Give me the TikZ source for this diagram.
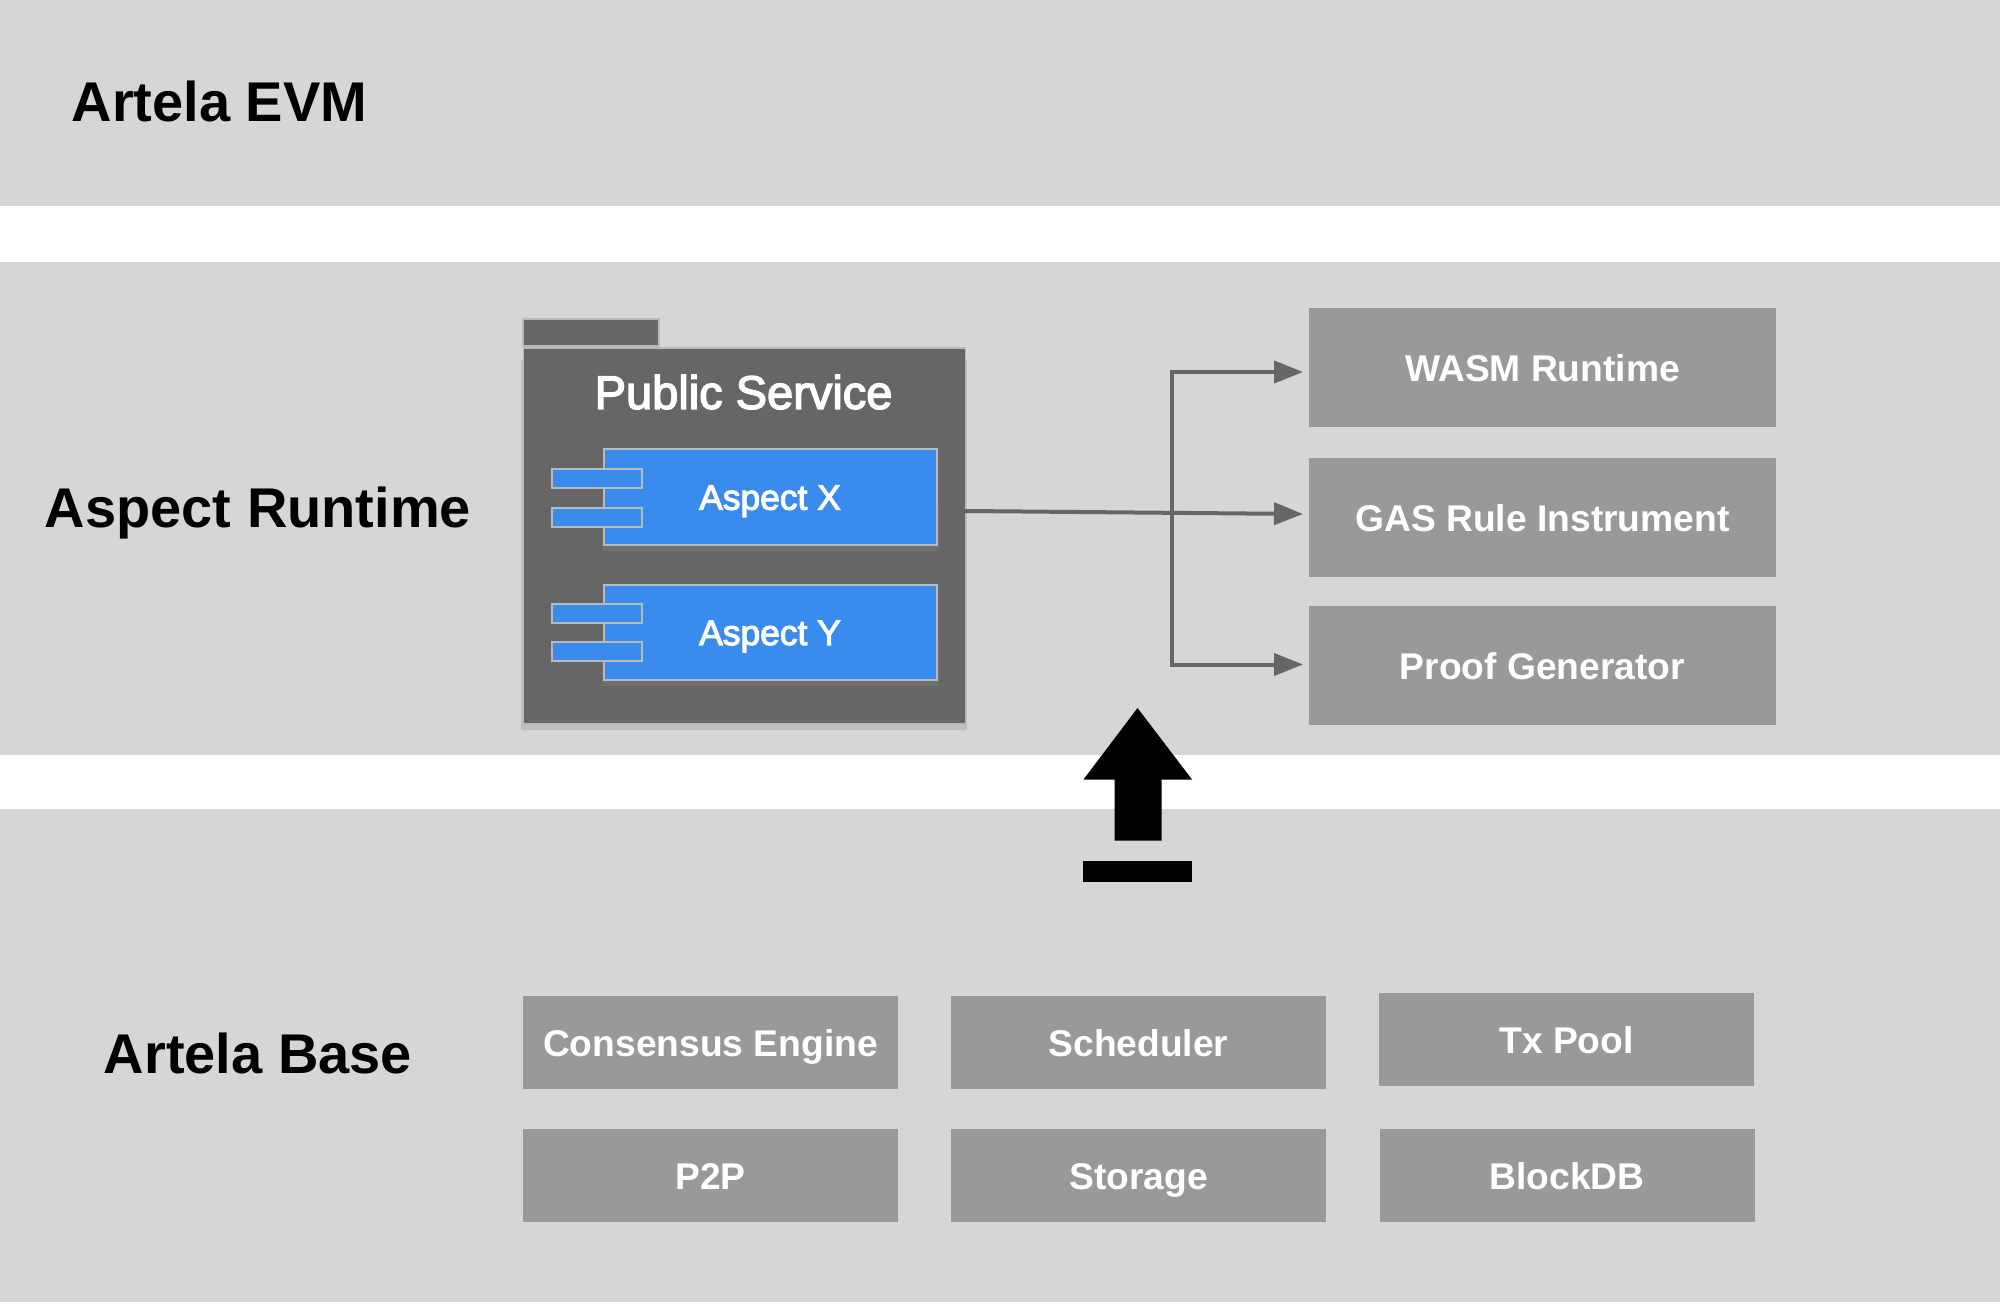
\documentclass[tikz,border=0pt]{standalone}
\usepackage{fontspec}
\setmainfont{Liberation Sans}
\newfontfamily\medfont[FakeBold=3]{Liberation Sans}
\usetikzlibrary{arrows.meta}
\definecolor{band}{HTML}{D6D6D6}
\definecolor{boxgray}{HTML}{999999}
\definecolor{dark}{HTML}{666666}
\definecolor{blueaspect}{HTML}{3A8BEE}
\definecolor{edge}{HTML}{B4BABD}
\tikzset{
  x=0.5pt,y=-0.5pt,
  wh/.style 2 args={minimum width=#1*0.5pt,minimum height=#2*0.5pt},
  graybox/.style={rectangle,fill=boxgray,inner sep=0pt,text=white,text height=14pt,text depth=0pt,font=\bfseries\fontsize{18.6}{20}\selectfont},
  title/.style={inner sep=0pt,text height=20.1pt,text depth=0pt,text=black,font=\bfseries\fontsize{28}{30}\selectfont},
  pkg/.style={rectangle,fill=dark,draw=edge,line width=0.8pt,inner sep=0pt},
  aspectbox/.style={rectangle,fill=blueaspect,draw=edge,line width=1pt,inner sep=0pt,text=white,text height=12.7pt,text depth=0pt,font=\medfont\fontsize{17.7}{19}\selectfont},
  port/.style={rectangle,fill=blueaspect,draw=edge,line width=1pt,inner sep=0pt,minimum width=45pt,minimum height=9.5pt},
  conn/.style={draw=dark,line width=2pt,line join=miter},
  tipped/.style={conn,-{Triangle[length=14.5pt,width=11pt,fill=dark]}}
}
\begin{document}
\begin{tikzpicture}
\useasboundingbox (0,0) rectangle (2000,1304);
\fill[white] (0,0) rectangle (2000,1304);
% bands
\fill[band] (0,0) rectangle (2000,206);
\fill[band] (0,262) rectangle (2000,754.5);
\fill[band] (0,808.5) rectangle (2000,1301.5);
% titles
\node[title] (tEvm) at (219.5,101.5) {Artela EVM};
\node[title] (tRun) at (258,507.6) {Aspect Runtime};
\node[title] (tBase) at (258,1053.5) {Artela Base};
% package
\fill[black!25] (521,360) rectangle (967,730);
\node[pkg,wh={136}{27}] (tab) at (591,332.5) {};
\node[pkg,wh={442}{376}] (pub) at (744.5,536) {};
\node[inner sep=0pt,text height=16.9pt,text depth=0pt,text=white,font=\medfont\fontsize{23.5}{25}\selectfont] (pubLabel) at (743.6,392) {Public Service};
% aspects
\fill[black!56] (602,500) rectangle (939,551);
\fill[black!56] (602,640) rectangle (939,686);
\node[aspectbox,wh={333}{95}] (ax) at (770,497) {Aspect X};
\node[aspectbox,wh={333}{95}] (ay) at (770,632.3) {Aspect Y};
\node[port] (ax1) at (597,478.5) {};
\node[port] (ax2) at (597,517) {};
\node[port] (ay1) at (597,613.5) {};
\node[port] (ay2) at (597,651.5) {};
% right boxes
\node[graybox,wh={467}{119}] (wasm) at (1542.5,367.5) {WASM Runtime};
\node[graybox,wh={467}{119}] (gas) at (1542.5,517.8) {GAS Rule Instrument};
\node[graybox,wh={467}{119}] (proof) at (1542.5,665.3) {Proof Generator};
% connectors
\coordinate (start) at (965,511);
\coordinate (tipA) at (1303,372);
\coordinate (tipB) at (1303,514);
\coordinate (tipC) at (1303,664.5);
\coordinate (elbow) at (1171.5,513);
\draw[tipped] (start) -- (tipB);
\draw[tipped] (elbow) |- (tipA);
\draw[tipped] (elbow) |- (tipC);
% big arrow
\fill[black] (1137.5,708) -- (1192,779.5) -- (1161.5,779.5) -- (1161.5,840.5) -- (1114.5,840.5) -- (1114.5,779.5) -- (1083.5,779.5) -- cycle;
\fill[black] (1083,860.5) rectangle (1192,881.5);
% bottom boxes
\node[graybox,wh={375}{93}] (cons) at (710.5,1042) {Consensus Engine};
\node[graybox,wh={375}{93}] (sched) at (1138.5,1042) {Scheduler};
\node[graybox,wh={375}{93}] (txpool) at (1566.5,1039) {Tx Pool};
\node[graybox,wh={375}{93}] (p2p) at (710.5,1175.5) {P2P};
\node[graybox,wh={375}{93}] (storage) at (1138.5,1175.5) {Storage};
\node[graybox,wh={375}{93}] (blockdb) at (1567,1175.5) {BlockDB};
\end{tikzpicture}
\end{document}
